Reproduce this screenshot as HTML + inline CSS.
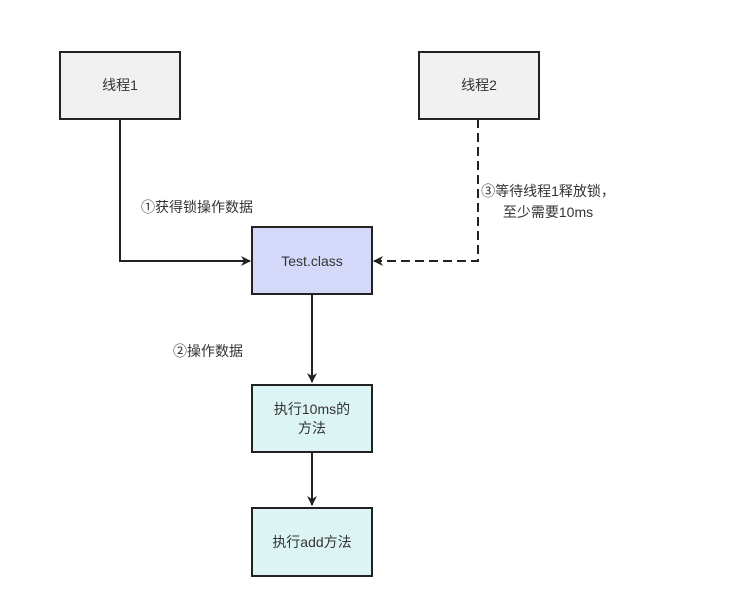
<!DOCTYPE html>
<html><head><meta charset="utf-8"><style>
html,body{margin:0;padding:0;background:#fff;}
text{font-family:"Liberation Sans","Noto Sans CJK SC",sans-serif;font-size:14px;fill:#333;}
</style></head><body>
<svg width="729" height="610" xmlns="http://www.w3.org/2000/svg">
<defs>
<marker id="a" markerWidth="10" markerHeight="10" refX="9" refY="5" orient="auto" markerUnits="userSpaceOnUse">
<path d="M0,0 L10,5 L0,10 L3,5 Z" fill="#222"/>
</marker>
</defs>
<g stroke="#222" stroke-width="2" fill="none">
<path d="M120,119 V261 H250" marker-end="url(#a)"/>
<path d="M478,119 V261 H374" stroke-dasharray="9,5" marker-end="url(#a)"/>
<path d="M312,294 V382" marker-end="url(#a)"/>
<path d="M312,452 V505" marker-end="url(#a)"/>
</g>
<g stroke="#222" stroke-width="2">
<rect x="60" y="52" width="120" height="67" fill="#f1f1f1"/>
<rect x="419" y="52" width="120" height="67" fill="#f1f1f1"/>
<rect x="252" y="227" width="120" height="67" fill="#d5d9f9"/>
<rect x="252" y="385" width="120" height="67" fill="#dcf5f4"/>
<rect x="252" y="508" width="120" height="68" fill="#dcf5f4"/>
</g>
<g text-anchor="middle">
<text x="120" y="90">线程1</text>
<text x="479" y="90">线程2</text>
<text x="312" y="266">Test.class</text>
<text x="312" y="414">执行10ms的</text>
<text x="312" y="433">方法</text>
<text x="312" y="547">执行add方法</text>
<text x="548" y="196">③等待线程1释放锁，</text>
<text x="548" y="217">至少需要10ms</text>
</g>
<text x="141" y="212">①获得锁操作数据</text>
<text x="173" y="356">②操作数据</text>
</svg>
</body></html>
